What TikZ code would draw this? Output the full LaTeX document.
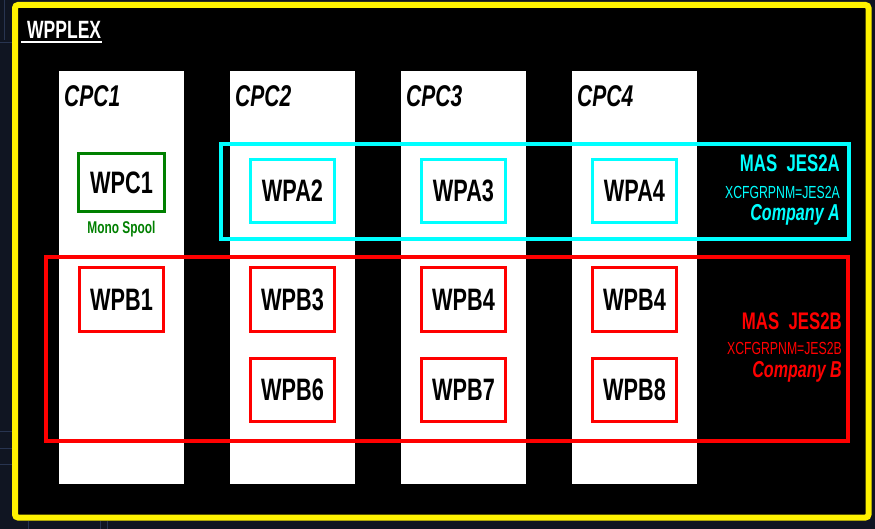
\documentclass[tikz,border=0pt]{standalone}
\usepackage{fontspec}
\setmainfont{Liberation Sans}[FakeStretch=0.7]
\definecolor{backdrop}{RGB}{16,21,34}
\definecolor{gridline}{RGB}{40,52,80}
\definecolor{monogreen}{RGB}{0,128,0}
\definecolor{aqua}{RGB}{0,255,255}
\definecolor{brightred}{RGB}{255,0,0}
\begin{document}
\begin{tikzpicture}[x=1pt,y=-1pt,
  cpccol/.style={fill=white, draw=none, minimum width=125pt, minimum height=413pt, inner sep=0pt, anchor=north west},
  cpclabel/.style={anchor=west, inner sep=0pt, font=\fontsize{30}{30}\selectfont\bfseries\itshape, text=black},
  unitbox/.style={draw, line width=3pt, fill=white, minimum width=84pt, minimum height=63pt, inner sep=0pt,
    font=\fontsize{31}{31}\selectfont\bfseries, text=black},
  greenbox/.style={unitbox, draw=monogreen},
  cyanbox/.style={unitbox, draw=aqua},
  redbox/.style={unitbox, draw=brightred},
  grouptext/.style={anchor=east, inner sep=0pt},
  bigtxt/.style={font=\fontsize{24}{24}\selectfont\bfseries},
  midtxt/.style={font=\fontsize{17.5}{17.5}\selectfont},
  cotxt/.style={font=\fontsize{23}{23}\selectfont\bfseries\itshape},
]
\useasboundingbox (0,0) rectangle (875,529);
% screen backdrop
\fill[backdrop] (0,0) rectangle (875,529);
\draw[gridline, line width=0.8pt] (4,0) -- (4,40) (0,42) -- (12,42)
  (0,431) -- (12,431) (0,448) -- (12,448) (0,464) -- (12,464)
  (28,521) -- (28,529) (100,521) -- (100,529) (107,521) -- (107,529);
% plex frame
\draw[yellow, line width=6pt, fill=black, rounded corners=3pt] (15,5) rectangle (868.5,517.5);
\node[anchor=west, inner sep=0pt, text=white, font=\fontsize{25}{25}\selectfont\bfseries] (plex) at (27,30) {WPPLEX};
\draw[white, line width=2pt] (21,42) -- (102,42);

% CPC columns
\node[cpccol] (c1) at (59,71) {};
\node[cpccol] (c2) at (230,71) {};
\node[cpccol] (c3) at (401,71) {};
\node[cpccol] (c4) at (572,71) {};
\node[cpclabel] (l1) at (64,96) {CPC1};
\node[cpclabel] (l2) at (235,96) {CPC2};
\node[cpclabel] (l3) at (406,96) {CPC3};
\node[cpclabel] (l4) at (577,96) {CPC4};

% group frames
\draw[aqua, line width=4pt] (221,144) rectangle (849,239);
\draw[brightred, line width=4pt] (46,257) rectangle (848,441);

% systems
\node[greenbox, minimum width=86pt, minimum height=58pt] (wpc1) at (121.5,182.5) {WPC1};
\node[inner sep=0pt, text=monogreen, font=\fontsize{17}{17}\selectfont\bfseries] (mono) at (121.5,229) {Mono Spool};
\node[cyanbox] (wpa2) at (292.5,191) {WPA2};
\node[cyanbox] (wpa3) at (463.5,191) {WPA3};
\node[cyanbox] (wpa4) at (634.5,191) {WPA4};
\node[redbox] (wpb1) at (121.5,299.5) {WPB1};
\node[redbox] (wpb3) at (292.5,299.5) {WPB3};
\node[redbox] (wpb4a) at (463.5,299.5) {WPB4};
\node[redbox] (wpb4b) at (634.5,299.5) {WPB4};
\node[redbox] (wpb6) at (292.5,390) {WPB6};
\node[redbox] (wpb7) at (463.5,390) {WPB7};
\node[redbox] (wpb8) at (634.5,390) {WPB8};

% group captions
\node[grouptext, bigtxt, text=aqua] (masa) at (840,163.5) {MAS\ \ JES2A};
\node[grouptext, midtxt, text=aqua] (xcfa) at (840,192) {XCFGRPNM=JES2A};
\node[grouptext, cotxt, text=aqua] (coa) at (840,215) {Company A};
\node[grouptext, bigtxt, text=brightred] (masb) at (842,321.5) {MAS\ \ JES2B};
\node[grouptext, midtxt, text=brightred] (xcfb) at (842,348) {XCFGRPNM=JES2B};
\node[grouptext, cotxt, text=brightred] (cob) at (842,372) {Company B};
\end{tikzpicture}
\end{document}
